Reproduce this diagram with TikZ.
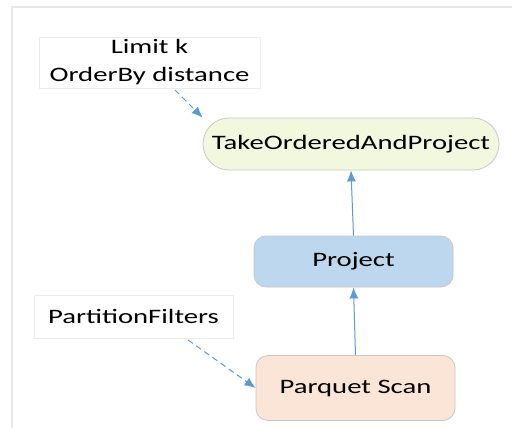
\documentclass[tikz,border=0pt]{standalone}
\usepackage{fontspec}
\setmainfont{Carlito}
\usetikzlibrary{arrows.meta}
\definecolor{arr}{HTML}{5B9BD5}
\definecolor{bord}{HTML}{C8C8C8}
\definecolor{takefill}{HTML}{F1F8DE}
\definecolor{projfill}{HTML}{BDD7EE}
\definecolor{scanfill}{HTML}{FBE5D6}
\newcommand{\widetxt}[1]{\scalebox{1.4}[1]{#1}}
\tikzset{
  opbox/.style={draw=bord, line width=0.8pt, rounded corners=12pt, minimum width=199pt, minimum height=52pt, font=\fontsize{20.5}{24}\selectfont, inner sep=0pt},
  notebox/.style={draw=gray!15, line width=0.6pt, fill=white, font=\fontsize{20.5}{28}\selectfont, inner sep=0pt, align=center},
  flow/.style={draw=arr, line width=1pt, -{Latex[length=11pt,width=9pt]}},
  dflow/.style={flow, dash pattern=on 6pt off 4pt}
}
\begin{document}
\begin{tikzpicture}[x=1pt,y=-1pt]
\useasboundingbox (0,0) rectangle (512,428);
\fill[white] (0,0) rectangle (512,428);
\draw[gray!18, line width=1.5pt] (12,428) -- (12,7) -- (512,7);
\node[notebox, minimum width=221pt, minimum height=51pt] (limit) at (149.5,62.5) {\widetxt{Limit k}\\\widetxt{OrderBy distance}};
\node[opbox, fill=takefill, rounded corners=26pt, minimum width=296pt] (take) at (351,144) {\widetxt{TakeOrderedAndProject}};
\node[opbox, fill=projfill, minimum height=51pt] (proj) at (353.5,261.5) {\widetxt{Project}};
\node[notebox, minimum width=199pt, minimum height=43pt] (pf) at (133.5,316.5) {\widetxt{PartitionFilters}};
\node[opbox, fill=scanfill, minimum height=65pt] (scan) at (355.5,388) {\widetxt{Parquet Scan}};
\draw[flow] (scan.north) -- (proj.south);
\draw[flow] (proj.north) -- (take.south);
\draw[dflow] (175,90) -- (take.north west);
\draw[dflow] (188,340) -- (scan.west);
\end{tikzpicture}
\end{document}
